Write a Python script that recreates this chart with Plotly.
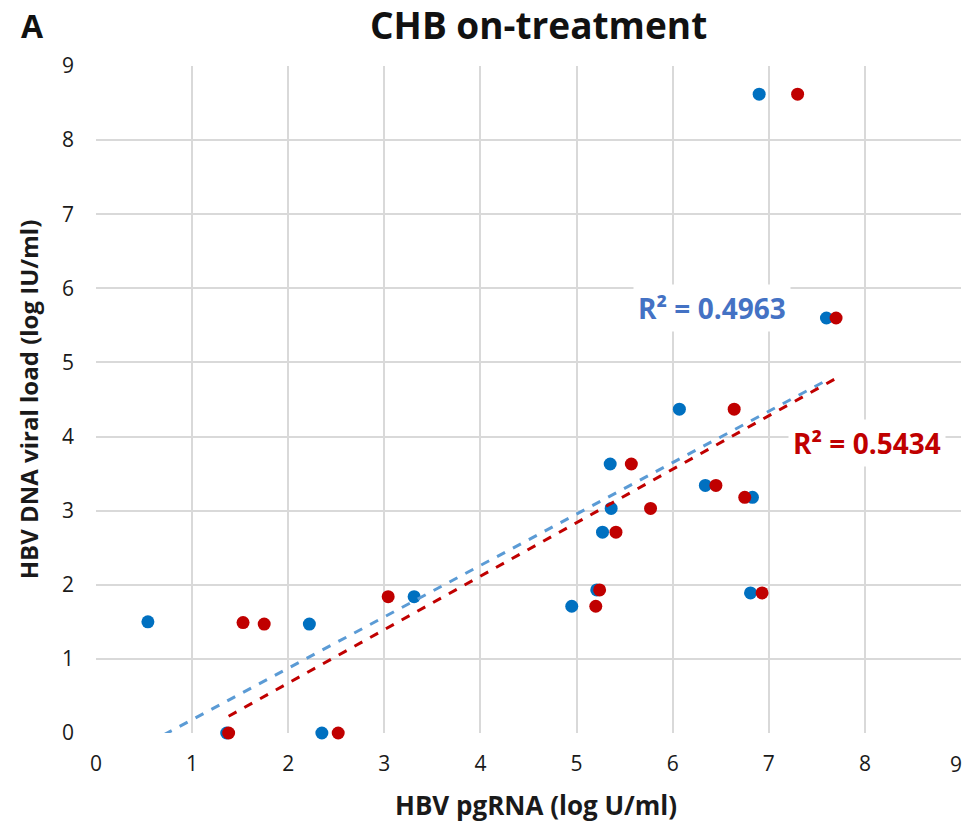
import numpy as np
import plotly.graph_objects as go

# Blue series (HBV pgRNA vs HBV DNA)
blue_x = [0.54, 1.36, 2.22, 2.35, 3.31, 4.95, 5.21, 5.27, 5.36, 5.35, 6.07, 6.34, 6.83, 6.81, 6.90, 7.60]
blue_y = [1.50, 0.00, 1.47, 0.00, 1.84, 1.71, 1.93, 2.71, 3.03, 3.63, 4.37, 3.34, 3.18, 1.89, 8.62, 5.60]

# Red series
red_x = [1.38, 1.53, 1.75, 2.52, 3.04, 5.20, 5.24, 5.41, 5.57, 5.77, 6.45, 6.64, 6.75, 6.93, 7.30, 7.70]
red_y = [0.00, 1.49, 1.47, 0.00, 1.84, 1.71, 1.93, 2.71, 3.63, 3.03, 3.34, 4.37, 3.18, 1.89, 8.62, 5.60]

blue_r2_label = "R² = 0.4963"
red_r2_label = "R² = 0.5434"
blue_r2_pos = (6.41, 5.74)
red_r2_pos = (8.02, 3.91)

title = "CHB on-treatment"
panel_label = "A"
x_title = "HBV pgRNA (log U/ml)"
y_title = "HBV DNA viral load (log IU/ml)"
ticks = list(range(0, 10))

BLUE = "#0070C0"
BLUE_LINE = "#5B9BD5"
BLUE_TEXT = "#4472C4"
RED = "#C00000"
FONT = "'Open Sans', sans-serif"
TXT = "#1a1a1a"


def fit_line(xs, ys):
    xs = np.array(xs)
    ys = np.array(ys)
    m, b = np.polyfit(xs, ys, 1)
    lx = np.array([xs.min(), xs.max()])
    return lx, m * lx + b


fig = go.Figure()

bx, by = fit_line(blue_x, blue_y)
rx, ry = fit_line(red_x, red_y)

fig.add_trace(go.Scatter(x=blue_x, y=blue_y, mode="markers",
                         marker=dict(color=BLUE, size=13), showlegend=False, cliponaxis=False))
fig.add_trace(go.Scatter(x=red_x, y=red_y, mode="markers",
                         marker=dict(color=RED, size=13), showlegend=False, cliponaxis=False))
fig.add_trace(go.Scatter(x=bx, y=by, mode="lines",
                         line=dict(color=BLUE_LINE, width=3, dash="dash"), showlegend=False))
fig.add_trace(go.Scatter(x=rx, y=ry, mode="lines",
                         line=dict(color=RED, width=3, dash="dash"), showlegend=False))

fig.update_layout(
    width=964, height=826,
    margin=dict(l=96, r=3, t=66, b=93),
    paper_bgcolor="white", plot_bgcolor="white",
    font=dict(family=FONT, size=20, color=TXT),
    xaxis=dict(range=[0, 9], tickvals=ticks, showgrid=True, gridcolor="#d9d9d9", gridwidth=2,
               zeroline=False, showline=False, ticks="", automargin=False, ticklabelstandoff=16,
               tickfont=dict(size=21, color=TXT)),
    yaxis=dict(range=[0, 9], tickvals=ticks, showgrid=True, gridcolor="#d9d9d9", gridwidth=2,
               zeroline=False, showline=False, ticks="", ticklabelstandoff=21, automargin=False,
               tickfont=dict(size=21, color=TXT),
               title=dict(text="<b>" + y_title + "</b>", font=dict(size=24, color=TXT), standoff=16)),
    annotations=[
        dict(text="<b>" + title + "</b>", xref="paper", yref="paper", x=0.511, y=1.0,
             yshift=42, showarrow=False, font=dict(size=37, color="#111"), xanchor="center", yanchor="middle"),
        dict(text="<b>" + panel_label + "</b>", xref="paper", yref="paper", x=0, y=1.0,
             xshift=-64, yshift=41, showarrow=False, font=dict(size=32, color="#111"), xanchor="center", yanchor="middle"),
        dict(text="<b>" + x_title + "</b>", xref="paper", yref="paper", x=0.509, y=0,
             yshift=-72, showarrow=False, font=dict(size=26, color=TXT), xanchor="center", yanchor="middle",
             borderpad=0),
        dict(text=str(ticks[-1]), xref="x", yref="paper", x=ticks[-1], y=0,
             xshift=2, yshift=-31, showarrow=False, font=dict(size=21, color=TXT), xanchor="right",
             yanchor="middle", borderpad=0),
        dict(text="<b>" + blue_r2_label + "</b>", x=blue_r2_pos[0], y=blue_r2_pos[1], showarrow=False,
             font=dict(size=28, color=BLUE_TEXT), bgcolor="white", borderpad=4),
        dict(text="<b>" + red_r2_label + "</b>", x=red_r2_pos[0], y=red_r2_pos[1], showarrow=False,
             font=dict(size=28, color=RED), bgcolor="white", borderpad=4),
    ],
)

fig.write_html("out.html", config={"displayModeBar": False},
               post_script="document.body.style.margin='0';document.body.style.overflow='hidden';")
